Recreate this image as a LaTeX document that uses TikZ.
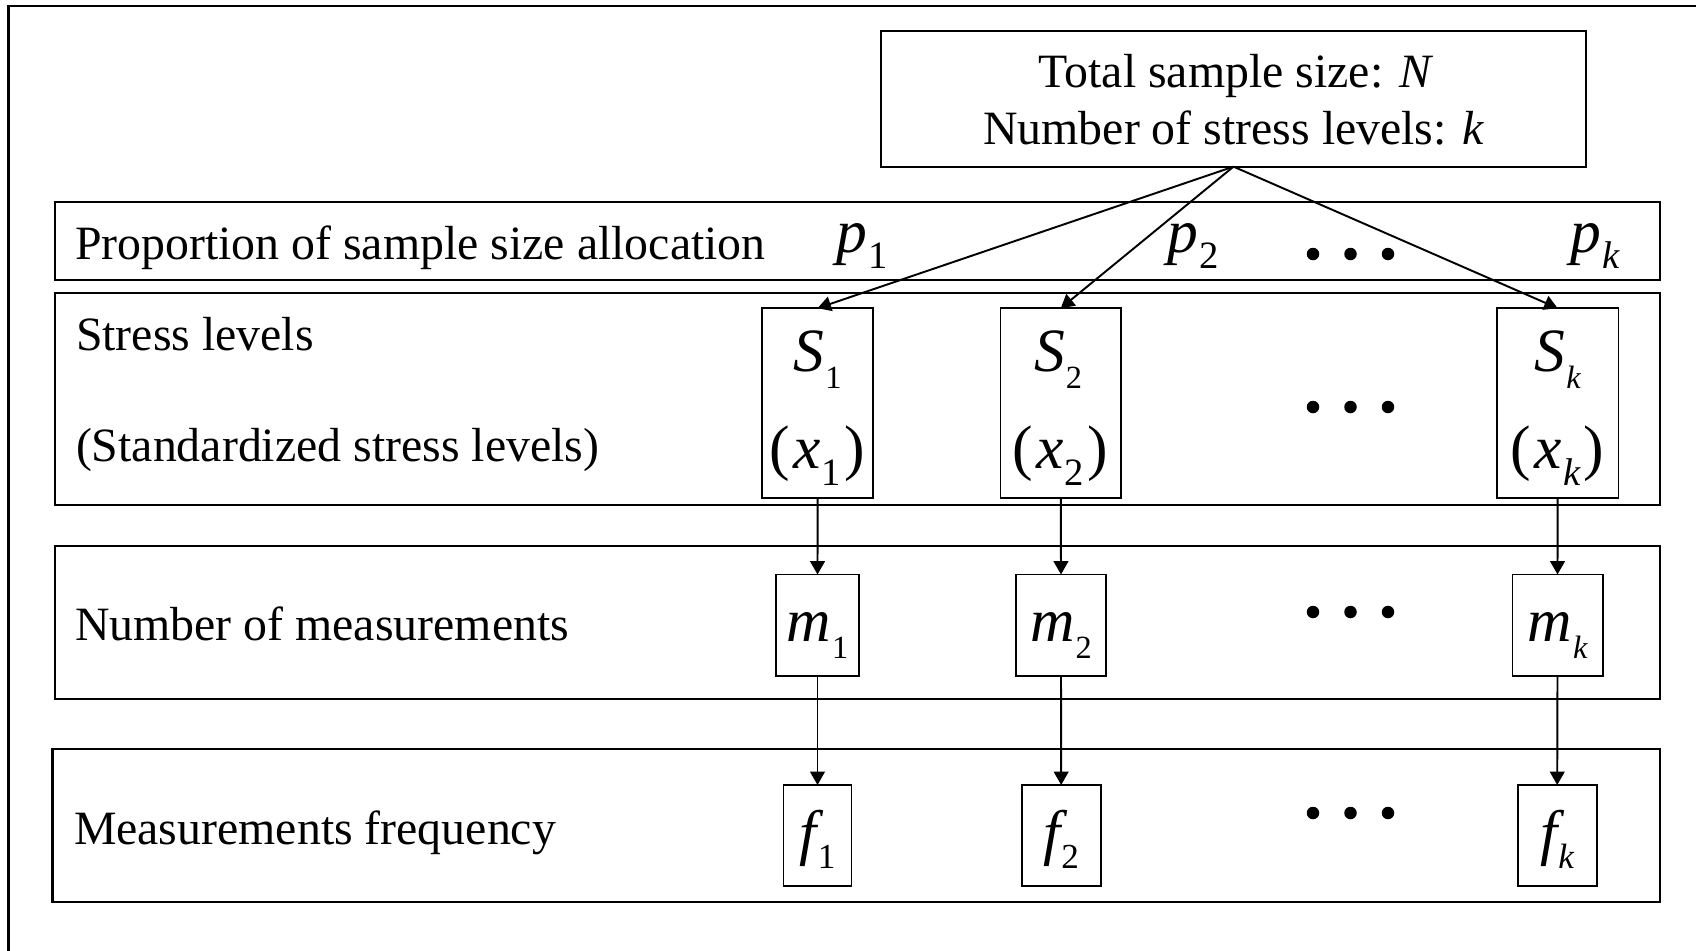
\documentclass[tikz,border=0pt]{standalone}
\usepackage{fontspec}
\setmainfont{Liberation Serif}
\usetikzlibrary{arrows.meta}

% symbol fonts: large italic letters with smaller subscripts
\newcommand\symfont{\fontsize{17.5pt}{17.5pt}\selectfont}
\newcommand\symsub[3]{\raisebox{-#2}{\fontsize{#1}{#1}\selectfont #3}}
\newcommand\var[4]{{\symfont\itshape #1}\kern0.3pt\symsub{#2}{#3}{#4}}

\begin{document}
\begin{tikzpicture}[x=0.01cm, y=-0.01cm,
  txt/.style={inner sep=0pt, outer sep=0pt, font=\fontsize{13.6pt}{16pt}\selectfont},
  sym/.style={inner sep=0pt, outer sep=0pt},
  rowbox/.style={draw, line width=0.6pt, inner sep=0pt, outer sep=0pt},
  cell/.style={draw, line width=0.55pt, inner sep=0pt, outer sep=0pt},
  arr/.style={line width=0.55pt, -{Triangle[length=3.8pt, width=4.2pt]}},
  dotmark/.style={circle, fill, inner sep=0pt, minimum size=0.125cm}]

\fill[white] (0,0) rectangle (1696,951);
\useasboundingbox (0,0) rectangle (1696,951);

% outer frame (left and top edges)
\draw[line width=0.85pt] (8.6,951) -- (8.6,6) -- (1696,6);

% header box
\node[rowbox, minimum width=7.043cm, minimum height=1.356cm] (top) at (1233.5,98.8) {};
\node[txt, anchor=base] (topa) at (1236,87.3) {Total sample size: \textit{N}};
\node[txt, anchor=base] (topb) at (1234,144) {Number of stress levels: \textit{k}};

% row frames
\node[rowbox, minimum width=16.04cm, minimum height=0.775cm] (prop) at (857.5,241.2) {};
\node[rowbox, minimum width=16.04cm, minimum height=2.11cm] (stress) at (857.5,399) {};
\node[rowbox, minimum width=16.04cm, minimum height=1.525cm] (meas) at (857.5,622.7) {};
\node[rowbox, minimum width=16.065cm, minimum height=1.525cm] (freq) at (856.2,825.7) {};

% row labels
\node[txt, anchor=base west] (lprop) at (75,259) {Proportion of sample size allocation};
\node[txt, anchor=base west] (lstress) at (76,350) {Stress levels};
\node[txt, anchor=base west] (lstd) at (76,461) {(Standardized stress levels)};
\node[txt, anchor=base west] (lmeas) at (75,640) {Number of measurements};
\node[txt, anchor=base west] (lfreq) at (74,844) {Measurements frequency};

% proportions
\node[sym, anchor=base] (p1) at (862,252) {\var{p}{11pt}{4.6pt}{1}};
\node[sym, anchor=base] (p2) at (1193,252) {\var{p}{11pt}{4.6pt}{2}};
\node[sym, anchor=base] (pk) at (1595,252) {\var{p}{11pt}{4.6pt}{\itshape k}};

% stress level cells
\node[cell, minimum width=1.116cm, minimum height=1.897cm] (s1) at (817.6,403.1) {};
\node[cell, minimum width=1.205cm, minimum height=1.897cm] (s2) at (1060.8,403.1) {};
\node[cell, minimum width=1.217cm, minimum height=1.897cm] (sk) at (1557.6,403.1) {};

\node[sym, anchor=base] (s1t) at (817.6,371.7) {\var{S}{9.2pt}{4.7pt}{1}};
\node[sym, anchor=base] (s2t) at (1058,371.7) {\var{S}{9.2pt}{4.7pt}{2}};
\node[sym, anchor=base] (skt) at (1557.6,371.7) {\var{S}{9.2pt}{4.7pt}{\itshape k}};

\node[sym, anchor=base] (x1t) at (817,468) {{\symfont(}\kern1pt\var{x}{11pt}{5pt}{1}\kern1pt{\symfont)}};
\node[sym, anchor=base] (x2t) at (1060,468) {{\symfont(}\kern1pt\var{x}{11pt}{5pt}{2}\kern1pt{\symfont)}};
\node[sym, anchor=base] (xkt) at (1557.6,468) {{\symfont(}\kern1pt\var{x}{11pt}{5pt}{\itshape k}\kern1pt{\symfont)}};

% measurement cells
\node[cell, minimum width=0.838cm, minimum height=1.01cm] (m1) at (817.5,625) {};
\node[cell, minimum width=0.90cm, minimum height=1.01cm] (m2) at (1061,625) {};
\node[cell, minimum width=0.90cm, minimum height=1.01cm] (mk) at (1557.5,625) {};

\node[sym, anchor=base] (m1t) at (817.5,641.7) {\var{m}{9.2pt}{4.7pt}{1}};
\node[sym, anchor=base] (m2t) at (1061,641.7) {\var{m}{9.2pt}{4.7pt}{2}};
\node[sym, anchor=base] (mkt) at (1557.5,641.7) {\var{m}{9.2pt}{4.7pt}{\itshape k}};

% frequency cells
\node[cell, minimum width=0.68cm, minimum height=1.01cm] (f1) at (817.5,835.5) {};
\node[cell, minimum width=0.79cm, minimum height=1.01cm] (f2) at (1061.2,835.5) {};
\node[cell, minimum width=0.79cm, minimum height=1.01cm] (fk) at (1557.2,835.5) {};

\node[sym, anchor=base] (f1t) at (817.5,853) {\var{f}{10pt}{4.3pt}{1}};
\node[sym, anchor=base] (f2t) at (1061.2,853) {\var{f}{10pt}{4.3pt}{2}};
\node[sym, anchor=base] (fkt) at (1557.2,853) {\var{f}{10pt}{4.3pt}{\itshape k}};

% ellipsis marks
\foreach \yy/\nm in {254/p, 407/s, 612/m, 813/f}{
  \node[dotmark] (\nm da) at (1313,\yy) {};
  \node[dotmark] (\nm db) at (1350.5,\yy) {};
  \node[dotmark] (\nm dc) at (1388,\yy) {};
}

% allocation arrows
\draw[arr] (top.south) -- (s1.north);
\draw[arr] (top.south) -- (s2.north);
\draw[arr] (top.south) -- (sk.north);

% column arrows
\draw[arr] (s1.south) -- (m1.north);
\draw[arr] (s2.south) -- (m2.north);
\draw[arr] (sk.south) -- (mk.north);
\draw[arr] (m1.south) -- (f1.north);
\draw[arr] (m2.south) -- (f2.north);
\draw[arr] (mk.south) -- (fk.north);

\end{tikzpicture}
\end{document}
